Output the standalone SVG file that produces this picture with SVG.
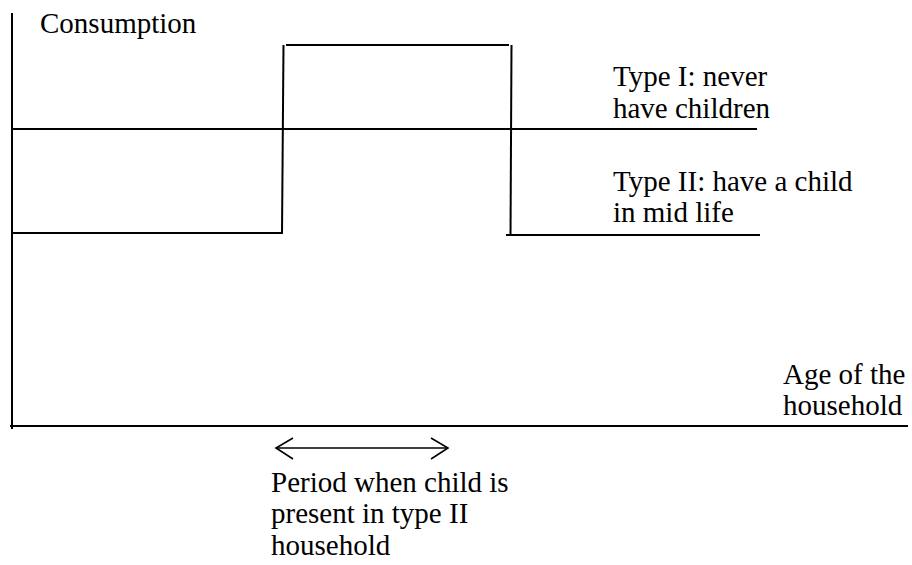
<svg xmlns="http://www.w3.org/2000/svg" width="912" height="565" viewBox="0 0 912 565">
<style>
  .ln { stroke: #000; stroke-width: 2; fill: none; }
  .ar { stroke: #000; stroke-width: 1.6; fill: none; }
  text { font-family: "Liberation Serif", "Times New Roman", serif; font-size: 29px; fill: #000; }
</style>
<rect width="912" height="565" fill="#fff"/>
<g id="axes">
  <line class="ln" x1="12" y1="13" x2="12" y2="429"/>
  <line class="ln" x1="10" y1="426" x2="908" y2="426"/>
</g>
<g id="connectors">
  <line id="type1-line" class="ln" x1="12" y1="129" x2="757" y2="129"/>
  <g id="type2-line">
    <line class="ln" x1="12" y1="233" x2="283" y2="233"/>
    <line class="ln" x1="282" y1="234" x2="283.5" y2="45"/>
    <line class="ln" x1="286" y1="45" x2="509" y2="45"/>
    <line class="ln" x1="511.5" y1="45" x2="510.5" y2="236"/>
    <line class="ln" x1="506" y1="235" x2="760" y2="235"/>
  </g>
  <g id="period-arrow">
    <line class="ar" x1="276" y1="448" x2="448" y2="448"/>
    <polyline class="ar" points="293,438 276,448 293,459"/>
    <polyline class="ar" points="431,438 448,448 431,459"/>
  </g>
</g>
<g id="label-consumption"><text x="40" y="33">Consumption</text></g>
<g id="label-type1">
  <text x="613" y="86">Type I: never</text>
  <text x="613" y="118">have children</text>
</g>
<g id="label-type2">
  <text x="613" y="191">Type II: have a child</text>
  <text x="613" y="222">in mid life</text>
</g>
<g id="label-age">
  <text x="783" y="384">Age of the</text>
  <text x="783" y="415">household</text>
</g>
<g id="label-period">
  <text x="271" y="492">Period when child is</text>
  <text x="271" y="523">present in type II</text>
  <text x="271" y="555">household</text>
</g>
</svg>
